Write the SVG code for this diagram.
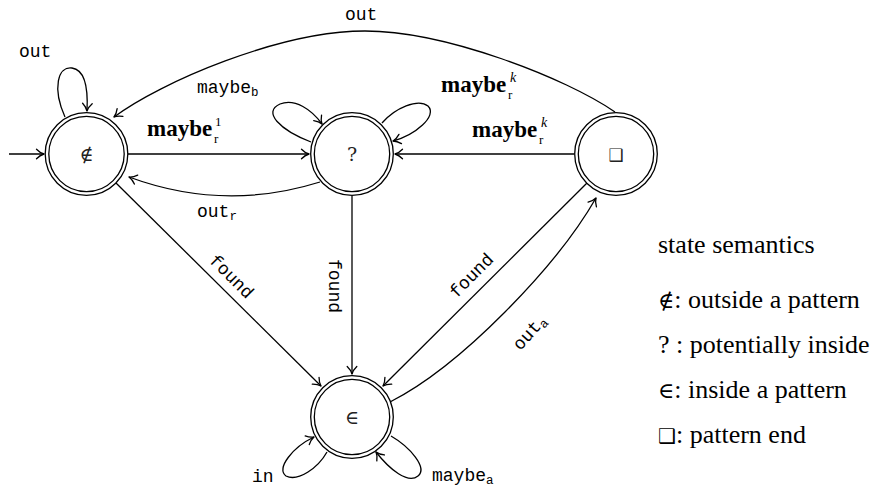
<svg xmlns="http://www.w3.org/2000/svg" width="877" height="488" viewBox="0 0 877 488">
<style>
  .ring { fill: none; stroke: #000; stroke-width: 1.3; }
  .bg { fill: #fff; stroke: none; }
  .sym { font-family: "DejaVu Serif", "Liberation Serif", serif; font-size: 19px; fill: #222; text-anchor: middle; }
  .edge { fill: none; stroke: #000; stroke-width: 1.3; marker-end: url(#arr); }
  .tt { font-family: "Liberation Mono", "DejaVu Sans Mono", monospace; font-size: 18px; fill: #000; }
  .ttsub { font-size: 12.5px; }
  .bm { font-family: "Liberation Serif", "DejaVu Serif", serif; font-size: 23px; font-weight: bold; fill: #000; }
  .sc { font-family: "Liberation Serif", "DejaVu Serif", serif; font-size: 13px; font-weight: normal; }
  .sci { font-family: "Liberation Serif", "DejaVu Serif", serif; font-size: 14px; font-weight: normal; font-style: italic; }
  .leg { font-family: "Liberation Serif", "DejaVu Serif", serif; font-size: 26px; fill: #000; }
  .legsym { font-family: "DejaVu Serif", "Liberation Serif", serif; font-size: 22px; }
  .box { font-family: "DejaVu Sans", sans-serif; }
</style>
<defs>
  <marker id="arr" markerUnits="userSpaceOnUse" markerWidth="14" markerHeight="14" refX="0" refY="0" viewBox="-9 -7 11 14" orient="auto" overflow="visible">
    <path d="M -7.5 -4.8 C -5 -2.2 -2.2 -0.6 0 0 C -2.2 0.6 -5 2.2 -7.5 4.8" fill="none" stroke="#000" stroke-width="1.3" stroke-linecap="round" stroke-linejoin="round"/>
  </marker>
</defs>

<g id="connectors">
  <path class="edge" d="M 9 154 L 44 154"/>
  <path class="edge" d="M 65 117 C 52 88 58 66 72 68 C 86 70 88 92 87 111"/>
  <path class="edge" d="M 128 154 L 309 154"/>
  <path class="edge" d="M 320 182 Q 224 212 129 177"/>
  <path class="edge" d="M 311 142 C 280 130 262 112 280 104 C 295 98 312 110 322 124"/>
  <path class="edge" d="M 382 123 C 395 108 418 98 428 106 C 438 116 415 135 393 141"/>
  <path class="edge" d="M 574 154 L 395 154"/>
  <path class="edge" d="M 615 112 C 566 78 445 31 365 31 C 280 31 161 82 114 117"/>
  <path class="edge" d="M 116 183 L 321 386"/>
  <path class="edge" d="M 352 196 L 352 374"/>
  <path class="edge" d="M 587 183 L 383 386"/>
  <path class="edge" d="M 390 402 C 461 366 557 266 596 198"/>
  <path class="edge" d="M 327 452 C 318 468 298 482 286 476 C 276 468 293 447 314 437"/>
  <path class="edge" d="M 391 436 C 410 447 428 468 418 476 C 408 484 390 470 376 452"/>

  <g id="edge-labels">
    <text class="tt" x="19" y="57">out</text>
    <text class="tt" x="345" y="20">out</text>
    <text class="tt" x="197" y="93">maybe<tspan class="ttsub" dy="3">b</tspan></text>
    <text class="bm" x="147" y="136">maybe<tspan class="sc" x="214" y="143">r</tspan><tspan class="sc" x="215" y="126">1</tspan></text>
    <text class="bm" x="441" y="92">maybe<tspan class="sc" x="508" y="99">r</tspan><tspan class="sci" x="510" y="82">k</tspan></text>
    <text class="bm" x="472" y="137">maybe<tspan class="sc" x="539" y="144">r</tspan><tspan class="sci" x="541" y="127">k</tspan></text>
    <text class="tt" x="197" y="217">out<tspan class="ttsub" dy="3">r</tspan></text>
    <text class="tt" text-anchor="middle" transform="translate(231 277) rotate(45)" x="0" y="5">found</text>
    <text class="tt" text-anchor="middle" transform="translate(334 286) rotate(90)" x="0" y="5">found</text>
    <text class="tt" text-anchor="middle" transform="translate(472 276) rotate(-45)" x="0" y="5">found</text>
    <text class="tt" text-anchor="middle" transform="translate(530 333) rotate(-48)" x="0" y="5">out<tspan class="ttsub" dy="3">a</tspan></text>
    <text class="tt" x="252" y="482">in</text>
    <text class="tt" x="432" y="481">maybe<tspan class="ttsub" dy="3">a</tspan></text>
  </g>
</g>

<g id="node-notin">
  <circle class="bg" cx="86.5" cy="154" r="41"/>
  <circle class="ring" cx="86.5" cy="154" r="41.3"/>
  <circle class="ring" cx="86.5" cy="154" r="37.7"/>
  <text class="sym" x="86.5" y="161">∉</text>
</g>
<g id="node-maybe">
  <circle class="bg" cx="352" cy="154" r="41"/>
  <circle class="ring" cx="352" cy="154" r="41.3"/>
  <circle class="ring" cx="352" cy="154" r="37.7"/>
  <text class="sym" x="352" y="161">?</text>
</g>
<g id="node-end">
  <circle class="bg" cx="616" cy="154" r="41"/>
  <circle class="ring" cx="616" cy="154" r="41.3"/>
  <circle class="ring" cx="616" cy="154" r="37.7"/>
  <text class="sym box" x="616" y="161" style="font-size:17px">❑</text>
</g>
<g id="node-in">
  <circle class="bg" cx="352" cy="417" r="41"/>
  <circle class="ring" cx="352" cy="417" r="41.3"/>
  <circle class="ring" cx="352" cy="417" r="37.7"/>
  <text class="sym" x="352" y="424">∈</text>
</g>

<g id="legend">
  <text class="leg" x="658" y="253">state semantics</text>
  <text class="leg" x="658" y="308"><tspan class="legsym">∉</tspan>: outside a pattern</text>
  <text class="leg" x="658" y="353">? : potentially inside</text>
  <text class="leg" x="658" y="398"><tspan class="legsym">∈</tspan>: inside a pattern</text>
  <text class="leg" x="658" y="443"><tspan class="legsym box" style="font-size:20px">❑</tspan>: pattern end</text>
</g>
</svg>
